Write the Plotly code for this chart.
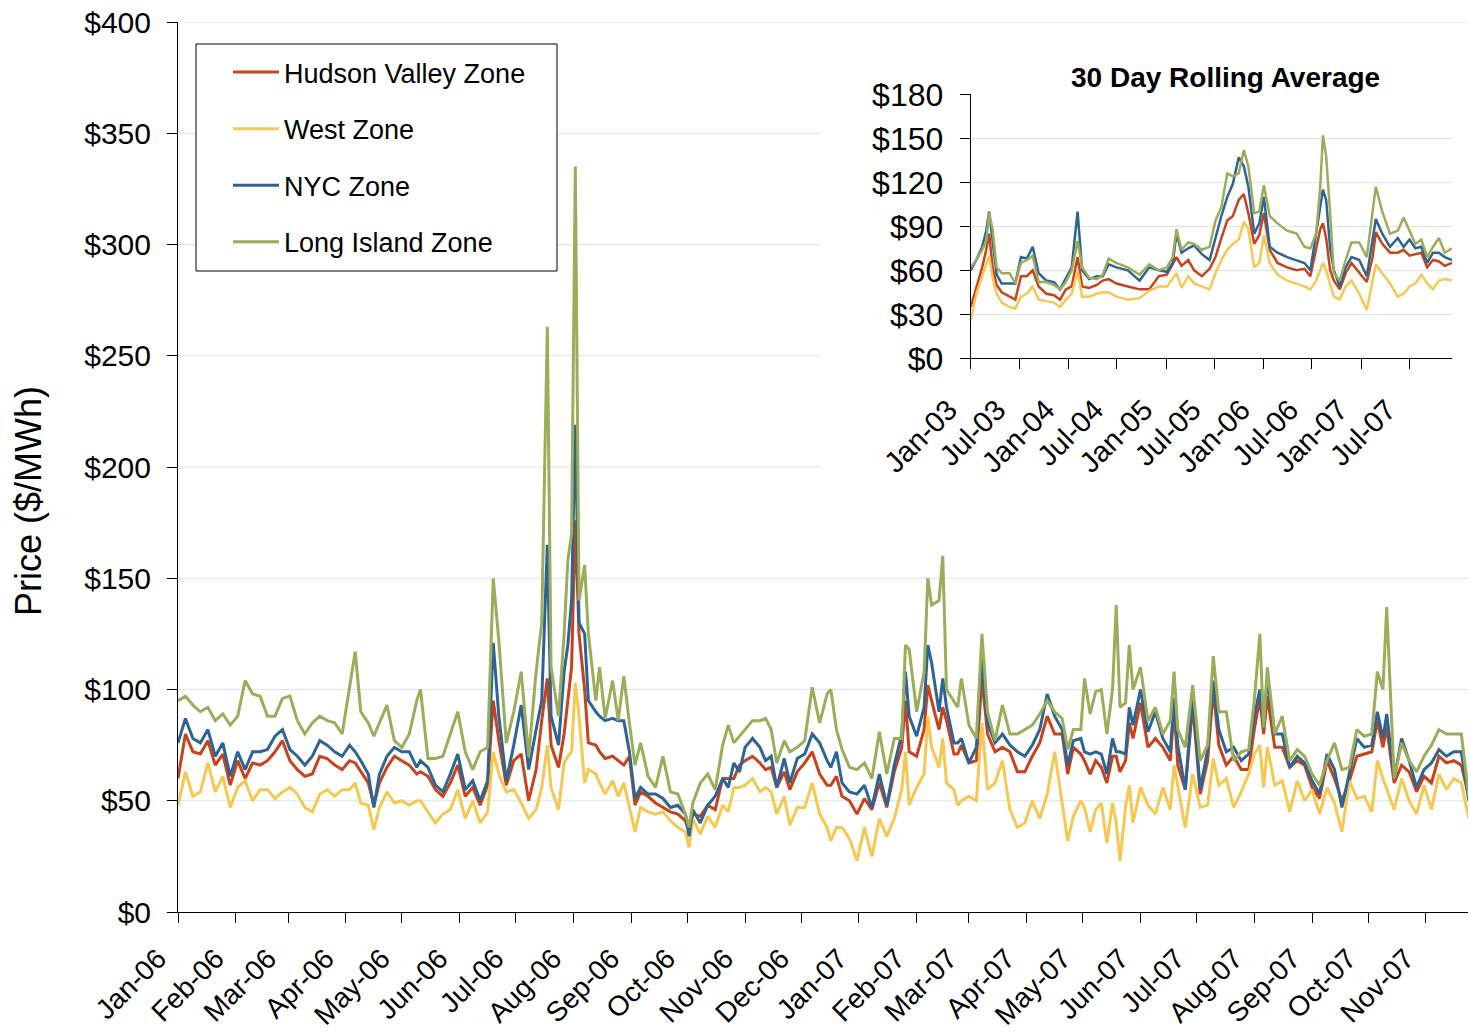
import pandas as pd
import plotly.graph_objects as go

# ---------------- main chart data (daily prices, $/MWh) ----------------
START = "2006-01-01"
main_days = [0, 4, 8, 12, 16, 20, 24, 28, 32, 36, 40, 44, 48, 52, 56, 60, 64, 68, 72, 76,
             80, 84, 88, 92, 95, 98, 102, 105, 108, 112, 116, 120, 124, 128, 130, 134, 138, 142, 146, 150,
             154, 158, 162, 166, 169,
             172, 176, 180, 184, 188, 192, 195, 198, 200, 204, 207, 209, 211, 213, 215, 218, 220, 224, 226, 229,
             233, 236, 239, 242, 245, 248, 252, 256, 260, 264, 268, 272, 274, 276, 280, 284, 288, 292, 295, 298,
             301, 304, 308, 312, 315, 318, 321, 325, 328, 332,
             336, 340, 344, 348, 350, 353, 356, 360, 364, 368, 372, 376, 380, 384, 388, 390, 392, 396, 400, 402,
             404, 408, 410, 412, 416, 418, 420, 424, 428, 431, 434, 438, 442, 446, 450, 454, 458, 462, 466, 470,
             474, 477, 480, 484, 486, 489, 492, 495, 498, 501, 503, 505,
             508, 510, 512, 516, 520, 524, 528, 532, 534, 536, 540, 544, 548, 552, 555, 558, 562, 566, 570, 574,
             577, 580, 582, 584, 588, 592, 596, 600, 604, 608, 612, 616, 620, 624, 628, 632, 636, 640, 643, 646,
             648, 652, 656, 660, 664, 668, 672, 676, 680, 684, 688, 692]

hudson_valley = [60, 80, 72, 71, 77, 66, 71, 57, 68, 60, 67, 66, 68, 72, 77, 68, 64, 61, 62, 70,
                 69, 66, 64, 68, 67, 63, 58, 48, 58, 65, 70, 68, 66, 62, 63, 61, 55, 52, 58, 66,
                 52, 56, 48, 57, 95,
                 77, 57, 68, 71, 50, 64, 86, 105, 75, 65, 80, 95, 110, 176, 125, 100, 76, 75, 72, 69,
                 70, 68, 66, 70, 48, 54, 52, 49, 47, 45, 44, 41, 36, 44, 43, 48, 46, 60, 60, 60,
                 66, 68, 70, 67, 64, 65, 56, 63, 55, 63,
                 67, 72, 62, 57, 57, 61, 52, 50, 44, 51, 46, 58, 47, 63, 74, 95, 72, 70, 82, 102,
                 95, 82, 92, 86, 71, 71, 75, 67, 68, 105, 80, 72, 74, 72, 63, 63, 70, 76, 88, 80,
                 80, 62, 74, 71, 68, 62, 68, 65, 58, 70, 70, 63,
                 68, 85, 78, 94, 74, 78, 74, 68, 92, 66, 55, 93, 53, 68, 100, 75, 66, 70, 64, 64,
                 82, 96, 80, 97, 74, 74, 65, 68, 66, 56, 51, 68, 60, 50, 59, 70, 71, 72, 86, 74,
                 83, 58, 66, 63, 54, 61, 58, 70, 67, 68, 66, 52]

west = [48, 63, 52, 54, 67, 54, 61, 47, 56, 59, 50, 55, 55, 51, 54, 56, 53, 47, 45, 53,
        55, 52, 55, 55, 58, 49, 48, 37, 47, 54, 49, 50, 48, 50, 50, 45, 40, 44, 46, 55,
        42, 50, 40, 45, 72,
        62, 54, 55, 49, 42, 46, 56, 75, 56, 46, 67, 70, 72, 103, 88, 58, 64, 62, 58, 53,
        59, 52, 58, 47, 36, 47, 45, 44, 45, 41, 38, 36, 29, 42, 35, 43, 38, 48, 45, 56,
        56, 57, 60, 54, 56, 54, 44, 52, 39, 47,
        47, 58, 44, 38, 32, 38, 38, 33, 23, 38, 25, 42, 34, 42, 55, 72, 48, 56, 62, 88,
        74, 65, 78, 58, 55, 48, 50, 52, 50, 85, 55, 58, 68, 46, 38, 40, 50, 42, 53, 72,
        48, 32, 43, 50, 47, 36, 46, 49, 31, 49, 40, 23,
        47, 57, 40, 56, 48, 44, 56, 46, 66, 57, 38, 62, 47, 48, 69, 57, 60, 47, 54, 62,
        71, 75, 56, 74, 57, 59, 45, 59, 50, 55, 44, 56, 49, 36, 59, 51, 52, 45, 68, 60,
        55, 46, 60, 50, 44, 57, 46, 62, 55, 60, 58, 42]

nyc = [76, 87, 78, 76, 82, 70, 76, 61, 72, 64, 72, 72, 73, 79, 82, 73, 70, 66, 70, 77,
       75, 72, 70, 75, 72, 68, 62, 47, 62, 70, 74, 72, 72, 65, 68, 65, 57, 54, 62, 71,
       55, 59, 50, 59, 121,
       88, 59, 75, 93, 64, 82, 95, 165, 88, 75, 108, 120, 140, 219, 130, 125, 95, 90, 88, 86,
       87, 86, 86, 72, 51, 56, 53, 53, 51, 47, 48, 44, 34, 46, 40, 48, 52, 60, 56, 67,
       63, 74, 78, 74, 68, 70, 56, 69, 58, 69,
       71, 80, 76, 68, 65, 72, 58, 54, 53, 57, 47, 62, 48, 66, 80, 108, 88, 79, 92, 120,
       112, 90, 105, 92, 76, 76, 78, 67, 74, 115, 85, 76, 80, 75, 72, 70, 75, 82, 98, 88,
       82, 66, 77, 78, 72, 71, 72, 71, 62, 78, 72, 72,
       71, 92, 84, 100, 81, 90, 78, 72, 96, 75, 55, 98, 55, 73, 104, 82, 72, 74, 68, 71,
       88, 100, 83, 105, 80, 80, 65, 70, 67, 59, 53, 71, 64, 47, 62, 78, 74, 75, 90, 78,
       89, 60, 78, 68, 56, 64, 67, 73, 70, 72, 72, 50]

long_island = [95, 97, 93, 90, 92, 86, 89, 84, 88, 104, 98, 97, 88, 88, 96, 97, 86, 80, 85, 88,
               86, 85, 80, 100, 117, 90, 85, 79, 85, 93, 77, 74, 80, 95, 100, 69, 69, 70, 80, 90,
               72, 64, 72, 74, 150,
               122, 76, 90, 108, 70, 108, 130, 263, 110, 88, 125, 158, 170, 335, 140, 156, 125, 95, 110, 87,
               104, 86, 106, 85, 66, 76, 61, 56, 70, 54, 53, 44, 38, 49, 58, 62, 55, 75, 84, 76,
               79, 82, 86, 86, 87, 82, 67, 77, 72, 74,
               77, 101, 85, 98, 100, 82, 73, 65, 64, 67, 60, 81, 62, 78, 78, 120, 118, 90, 108, 150,
               138, 140, 160, 100, 95, 92, 105, 84, 78, 125, 90, 77, 93, 80, 80, 82, 84, 89, 95, 90,
               87, 73, 82, 82, 105, 89, 99, 100, 80, 100, 138, 92,
               94, 120, 100, 110, 86, 92, 80, 86, 108, 82, 74, 102, 68, 75, 115, 90, 90, 68, 72, 73,
               95, 125, 83, 110, 80, 88, 68, 73, 70, 62, 57, 68, 76, 64, 65, 82, 79, 80, 108, 100,
               137, 60, 76, 68, 63, 70, 75, 82, 80, 80, 80, 52]

# ---------------- inset data (30 day rolling average) ----------------
inset_dates = ["2003-01-01", "2003-01-22", "2003-02-13", "2003-02-28", "2003-03-11", "2003-03-24",
               "2003-04-08", "2003-04-27", "2003-05-26", "2003-06-17", "2003-07-08", "2003-07-30",
               "2003-08-21", "2003-09-12", "2003-10-11", "2003-11-09", "2003-12-01", "2003-12-23",
               "2004-01-14", "2004-02-05", "2004-02-22", "2004-03-19", "2004-04-17", "2004-05-09",
               "2004-05-31", "2004-06-29", "2004-08-11", "2004-09-24", "2004-10-30", "2004-12-05",
               "2005-01-04", "2005-01-26", "2005-02-09", "2005-02-28", "2005-03-25", "2005-04-16",
               "2005-05-15", "2005-06-13", "2005-07-05", "2005-07-27", "2005-08-18", "2005-09-08",
               "2005-09-30", "2005-10-19", "2005-11-05", "2005-11-27", "2005-12-16", "2006-01-02",
               "2006-01-24", "2006-02-22", "2006-03-30", "2006-05-05", "2006-06-03", "2006-06-25",
               "2006-07-17", "2006-08-01", "2006-08-11", "2006-08-23", "2006-09-07", "2006-09-21",
               "2006-10-13", "2006-11-04", "2006-11-26", "2006-12-25", "2007-01-22", "2007-02-13",
               "2007-02-25", "2007-03-21", "2007-04-19", "2007-05-18", "2007-06-09", "2007-07-01",
               "2007-07-23", "2007-08-14", "2007-09-05", "2007-09-27", "2007-10-19", "2007-11-10",
               "2007-12-07"]

inset_hudson_valley = [35, 49, 62, 74, 85, 62, 50, 45, 42, 40, 56, 56, 60, 49, 44, 43, 40, 47, 49, 69,
                       49, 48, 50, 53, 54, 51, 49, 47, 47, 56, 57, 65, 69, 63, 67, 60, 56, 61, 69, 82,
                       94, 97, 108, 112, 99, 78, 84, 99, 74, 65, 62, 60, 61, 56, 76, 88, 92, 82, 60, 53,
                       47, 58, 65, 58, 52, 69, 86, 78, 72, 72, 74, 70, 71, 72, 62, 67, 66, 63, 65]
inset_west = [26, 44, 56, 65, 70, 55, 44, 38, 35, 34, 42, 44, 49, 40, 39, 38, 35, 40, 44, 60,
              42, 42, 44, 45, 45, 42, 40, 41, 46, 49, 49, 54, 58, 48, 56, 51, 49, 47, 58, 67,
              74, 78, 81, 93, 88, 62, 65, 84, 65, 57, 53, 51, 49, 47, 53, 60, 65, 60, 50, 42,
              40, 49, 53, 44, 33, 53, 64, 58, 51, 42, 44, 49, 51, 57, 51, 47, 53, 54, 53]
inset_nyc = [60, 67, 76, 87, 100, 80, 57, 51, 51, 51, 69, 68, 76, 58, 53, 52, 47, 55, 62, 100,
             60, 54, 56, 56, 64, 62, 60, 53, 62, 60, 59, 65, 85, 72, 75, 77, 71, 67, 83, 97,
             110, 119, 137, 131, 117, 85, 92, 110, 76, 72, 69, 67, 65, 60, 85, 105, 115, 108, 75, 60,
             49, 62, 69, 67, 56, 81, 95, 85, 76, 82, 76, 81, 75, 76, 65, 72, 72, 69, 67]
inset_long_island = [62, 67, 74, 80, 99, 88, 62, 58, 58, 51, 65, 67, 70, 52, 52, 50, 47, 52, 60, 80,
                     62, 55, 54, 57, 68, 65, 62, 57, 64, 60, 62, 69, 88, 74, 79, 78, 74, 76, 94, 103,
                     126, 124, 126, 142, 131, 99, 100, 118, 97, 92, 87, 85, 76, 75, 85, 117, 152, 138, 99, 58,
                     53, 67, 79, 79, 69, 99, 117, 100, 85, 87, 96, 87, 78, 81, 69, 76, 82, 72, 75]

main_ticks = [0, 50, 100, 150, 200, 250, 300, 350, 400]
inset_ticks = [0, 30, 60, 90, 120, 150, 180]

# ---------------- figure ----------------
W, H = 1469, 1034
ML, MR, MT, MB = 178, 1, 22, 122
PW, PH = W - ML - MR, H - MT - MB
FONT = "Liberation Sans, Arial, Helvetica, sans-serif"


def fx(px):
    return (px - ML) / PW


def fy(py):
    return (H - MB - py) / PH


main_dates = pd.Timestamp(START) + pd.to_timedelta(main_days, unit="D")

colors = {"hv": "#C8421B", "west": "#F6C851", "nyc": "#2D6494", "li": "#9BAD59"}
series = [("Hudson Valley Zone", hudson_valley, inset_hudson_valley, colors["hv"]),
          ("West Zone", west, inset_west, colors["west"]),
          ("NYC Zone", nyc, inset_nyc, colors["nyc"]),
          ("Long Island Zone", long_island, inset_long_island, colors["li"])]

fig = go.Figure()
for i, (name, vals, ivals, col) in enumerate(series):
    fig.add_trace(go.Scatter(x=main_dates, y=vals, mode="lines", name=name,
                             legendgroup=f"g{i}", line=dict(color=col, width=3)))
for i, (name, vals, ivals, col) in enumerate(series):
    fig.add_trace(go.Scatter(x=inset_dates, y=ivals, mode="lines", name=name,
                             showlegend=False, xaxis="x2", yaxis="y2",
                             line=dict(color=col, width=2.5)))

grid = "#D9E6E6"

# main gridlines drawn as shapes: the upper ones stop where the inset begins
shapes = []
for v in main_ticks[1:]:
    x1 = fx(820) if 200 <= v <= 350 else 1.0
    shapes.append(dict(type="line", xref="paper", yref="y", x0=0, x1=x1, y0=v, y1=v,
                       line=dict(color=grid, width=1), layer="below"))
# legend frame (white, covers gridlines)
shapes.append(dict(type="rect", xref="paper", yref="paper",
                   x0=fx(196), x1=fx(557), y0=fy(271), y1=fy(44),
                   fillcolor="white", line=dict(color="black", width=1), layer="below"))

fig.update_layout(
    width=W, height=H,
    margin=dict(l=ML, r=MR, t=MT, b=MB, autoexpand=False),
    paper_bgcolor="white", plot_bgcolor="white",
    font=dict(family=FONT, color="black"),
    showlegend=True,
    legend=dict(x=fx(228), y=fy(48), xanchor="left", yanchor="top",
                bgcolor="rgba(0,0,0,0)", borderwidth=0,
                font=dict(size=27, family=FONT, color="black"),
                traceorder="grouped", tracegroupgap=18.5, itemwidth=46),
    xaxis=dict(type="date", range=["2006-01-01", "2007-11-23 14:00"],
               tick0="2006-01-01", dtick="M1", tickformat="%b-%y", tickangle=-45,
               ticks="outside", ticklen=10, tickcolor="black", tickwidth=1,
               showline=True, linecolor="black", linewidth=1, showgrid=False,
               zeroline=False, automargin=False, ticklabelshift=-20, ticklabelstandoff=8,
               tickfont=dict(size=28, family=FONT, color="black")),
    yaxis=dict(range=[0, 400], tickvals=main_ticks, ticktext=[f"${v}" for v in main_ticks],
               showgrid=False, zeroline=False, automargin=False,
               ticks="outside", ticklen=10, tickcolor="black", showline=True,
               linecolor="black", linewidth=1, ticklabelstandoff=10,
               tickfont=dict(size=30, family=FONT, color="black")),
    xaxis2=dict(type="date", anchor="y2", domain=[fx(970.7), fx(1452)],
                range=["2003-01-01", "2007-12-07"], tick0="2003-01-01", dtick="M6",
                tickformat="%b-%y", tickangle=-45, ticks="outside", ticklen=10,
                tickcolor="black", showline=True, linecolor="black", showgrid=False,
                zeroline=False, automargin=False, ticklabelshift=-22, ticklabelstandoff=12,
                tickfont=dict(size=29, family=FONT, color="black")),
    yaxis2=dict(anchor="x2", domain=[fy(358.3), fy(94.3)], range=[0, 180],
                tickvals=inset_ticks, ticktext=[f"${v}" for v in inset_ticks],
                showgrid=True, gridcolor=grid, zeroline=False, automargin=False,
                ticks="outside", ticklen=10, tickcolor="black", showline=True,
                linecolor="black", ticklabelstandoff=10,
                tickfont=dict(size=32, family=FONT, color="black")),
    shapes=shapes,
    annotations=[
        dict(text="<b>30 Day Rolling Average</b>", xref="paper", yref="paper",
             x=fx(1225), y=fy(77), xanchor="center", yanchor="middle", showarrow=False,
             font=dict(size=28, family=FONT, color="black")),
        dict(text="Price ($/MWh)", xref="paper", yref="paper", textangle=-90,
             x=fx(28), y=fy(501), xanchor="center", yanchor="middle", showarrow=False,
             font=dict(size=36, family=FONT, color="black")),
    ],
)

fig.write_html("out.html", config={"displayModeBar": False},
               post_script="document.body.style.margin='0px';")
